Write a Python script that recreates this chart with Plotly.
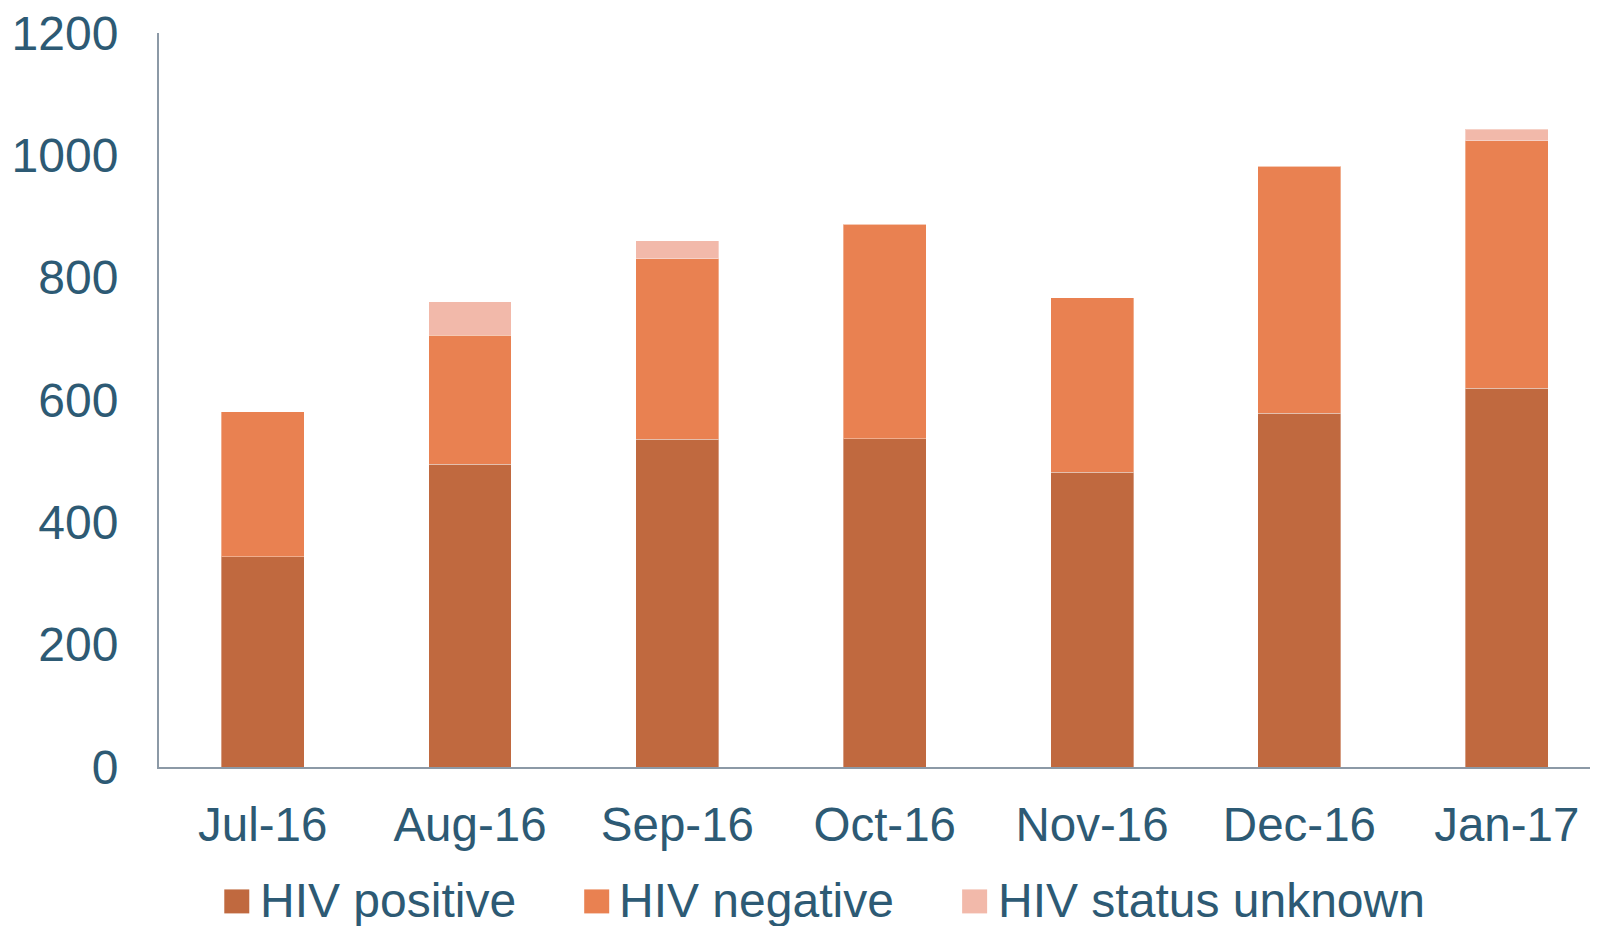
import plotly.graph_objects as go

months = ["Jul-16", "Aug-16", "Sep-16", "Oct-16", "Nov-16", "Dec-16", "Jan-17"]
hiv_positive = [344, 495, 536, 537, 482, 578, 619]
hiv_negative = [237, 211, 295, 350, 285, 404, 405]
hiv_unknown = [0, 55, 29, 0, 0, 0, 19]

series_names = ["HIV positive", "HIV negative", "HIV status unknown"]
series_colors = ["#C0693F", "#E98151", "#F2B9AA"]
y_ticks = [0, 200, 400, 600, 800, 1000, 1200]

text_color = "#2D5A74"
axis_color = "#8C99A6"
font_family = "Liberation Sans, Arial, sans-serif"

# page has an 8px body margin; work in figure coordinates
OFF = 8
W, H = 1598 - OFF, 926 - OFF
L = 158.7 - OFF
T = 33 - OFF
BOT = 767.5 - OFF
PH = BOT - T

fig = go.Figure()
for name, vals, col in zip(series_names, [hiv_positive, hiv_negative, hiv_unknown], series_colors):
    fig.add_trace(go.Bar(
        x=months, y=vals, name=name,
        marker=dict(color=col, line=dict(color="rgba(255,255,255,0.35)", width=1)),
        width=0.4, showlegend=False,
    ))

# manual legend (large swatches as in the reference)
legend_sq_x = [224, 584, 962]
legend_tx_x = [258, 617, 996]
for name, col, sx, tx in zip(series_names, series_colors, legend_sq_x, legend_tx_x):
    sx -= OFF
    tx -= OFF
    fig.add_shape(type="rect", xref="paper", yref="paper",
                  x0=(sx - L) / (W - L), x1=(sx + 25 - L) / (W - L),
                  y0=-(890 - OFF - BOT) / PH, y1=-(914 - OFF - BOT) / PH,
                  fillcolor=col, line=dict(width=0))
    fig.add_annotation(xref="paper", yref="paper",
                       x=(tx - L) / (W - L), y=-(901 - OFF - BOT) / PH,
                       text=name, showarrow=False, xanchor="left", yanchor="middle",
                       font=dict(size=48, color=text_color, family=font_family))

fig.update_layout(
    barmode="stack",
    width=W, height=H,
    margin=dict(l=L, r=0, t=T, b=H - BOT),
    plot_bgcolor="white", paper_bgcolor="white",
    font=dict(family=font_family, color=text_color, size=48),
    showlegend=False,
)
fig.update_xaxes(
    type="category", range=[-0.5, 6.44],
    showline=True, linecolor=axis_color, linewidth=2,
    showgrid=False, ticks="", ticklabelstandoff=15,
    tickfont=dict(size=47.5, color=text_color, family=font_family),
)
fig.update_yaxes(
    range=[0, 1200], tickvals=y_ticks,
    showline=True, linecolor=axis_color, linewidth=2,
    showgrid=False, zeroline=False, ticks="", ticklabelstandoff=29,
    ticklabeloverflow="allow",
    tickfont=dict(size=48, color=text_color, family=font_family),
)

fig.write_html("out.html")
